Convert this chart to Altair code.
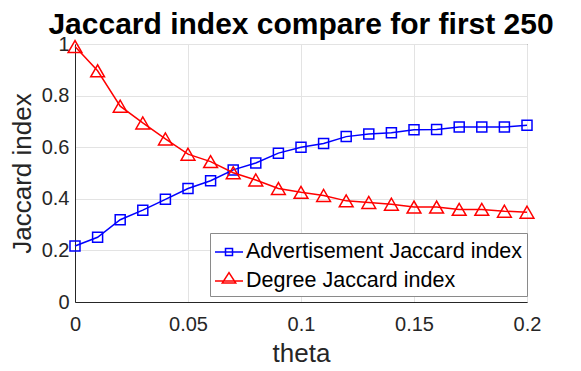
import altair as alt
import pandas as pd

theta = [0.00, 0.01, 0.02, 0.03, 0.04, 0.05, 0.06, 0.07, 0.08, 0.09, 0.10,
         0.11, 0.12, 0.13, 0.14, 0.15, 0.16, 0.17, 0.18, 0.19, 0.20]
adv = [0.217, 0.251, 0.319, 0.356, 0.398, 0.440, 0.470, 0.512, 0.539, 0.577, 0.600,
       0.614, 0.641, 0.651, 0.656, 0.668, 0.669, 0.678, 0.678, 0.678, 0.685]
deg = [0.990, 0.896, 0.759, 0.694, 0.632, 0.573, 0.544, 0.501, 0.473, 0.440, 0.425,
       0.413, 0.392, 0.386, 0.379, 0.368, 0.368, 0.359, 0.359, 0.352, 0.348]
series_names = ["Advertisement Jaccard index", "Degree Jaccard index"]
series_colors = ["#0000ff", "#ff0000"]
x_ticks = [0, 0.05, 0.1, 0.15, 0.2]
y_ticks = [0, 0.2, 0.4, 0.6, 0.8, 1]

rows = []
for t, a in zip(theta, adv):
    rows.append({"theta": t, "value": a, "series": series_names[0]})
for t, d in zip(theta, deg):
    rows.append({"theta": t, "value": d, "series": series_names[1]})
df = pd.DataFrame(rows)

FONT = "Liberation Sans"
AX = "#262626"

# legend glyphs: line through an open marker
SQ = "M-1,0L1,0M-0.25,-0.25L0.25,-0.25L0.25,0.25L-0.25,0.25Z"
TRI = "M-1,0L1,0M0,-0.6L0.48,0.15L-0.48,0.15Z"

x_enc = alt.X("theta:Q", scale=alt.Scale(domain=[0, 0.2], nice=False),
              axis=alt.Axis(values=x_ticks, format="~g", title="theta",
                            labelPadding=12, titlePadding=6, labelFlush=False))
y_enc = alt.Y("value:Q", scale=alt.Scale(domain=[0, 1], nice=False),
              axis=alt.Axis(values=y_ticks, format="~g", title="Jaccard index",
                            labelPadding=6, titlePadding=6, labelFlush=False))

color_scale = alt.Scale(domain=series_names, range=series_colors)
shape_scale = alt.Scale(domain=series_names, range=[SQ, TRI])

legend = alt.Legend(
    title=None, orient="none", legendX=135, legendY=189,
    symbolSize=784, symbolStrokeWidth=1.5, symbolFillColor="transparent",
    labelFontSize=21.5, labelFont=FONT, labelColor="black", labelLimit=400,
    labelOffset=2, padding=4, rowPadding=3,
    fillColor="white", strokeColor="#8a8a8a",
)

layers = []
shapes = ["square", "triangle-up"]
sizes = [100, 190]
for name, col, shp, sz in zip(series_names, series_colors, shapes, sizes):
    base = alt.Chart(df).transform_filter(alt.datum.series == name)
    layers.append(base.mark_line(strokeWidth=1.5, color=col).encode(x=x_enc, y=y_enc))
    layers.append(base.mark_point(shape=shp, size=sz, filled=False, strokeWidth=1.5,
                                  opacity=1, color=col).encode(x=x_enc, y=y_enc))

# legend-only layer (draws no marks)
leg = alt.Chart(df).transform_filter("false").mark_point(
    filled=False, strokeWidth=1.5, opacity=1
).encode(
    x=x_enc, y=y_enc,
    color=alt.Color("series:N", scale=color_scale, legend=legend),
    shape=alt.Shape("series:N", scale=shape_scale, legend=legend),
)
layers.append(leg)

chart = alt.layer(*layers).properties(
    width=452, height=258,
    title=alt.TitleParams("Jaccard index compare for first 250", fontSize=30,
                          fontWeight="bold", font=FONT, anchor="middle",
                          offset=6, dy=12, color="black"),
    autosize=alt.AutoSizeParams(type="none"),
    padding={"left": 67, "top": 36, "right": 46, "bottom": 61},
).configure_axis(
    labelFont=FONT, labelFontSize=20, labelColor=AX,
    titleFont=FONT, titleFontSize=26, titleColor=AX, titleFontWeight="normal",
    domainColor=AX, domainWidth=1, ticks=False,
    gridColor="#e3e3e3", gridWidth=1,
).configure_view(
    stroke=AX, strokeWidth=1,
)

chart.save("out.html", embed_options={"renderer": "svg", "actions": False})
